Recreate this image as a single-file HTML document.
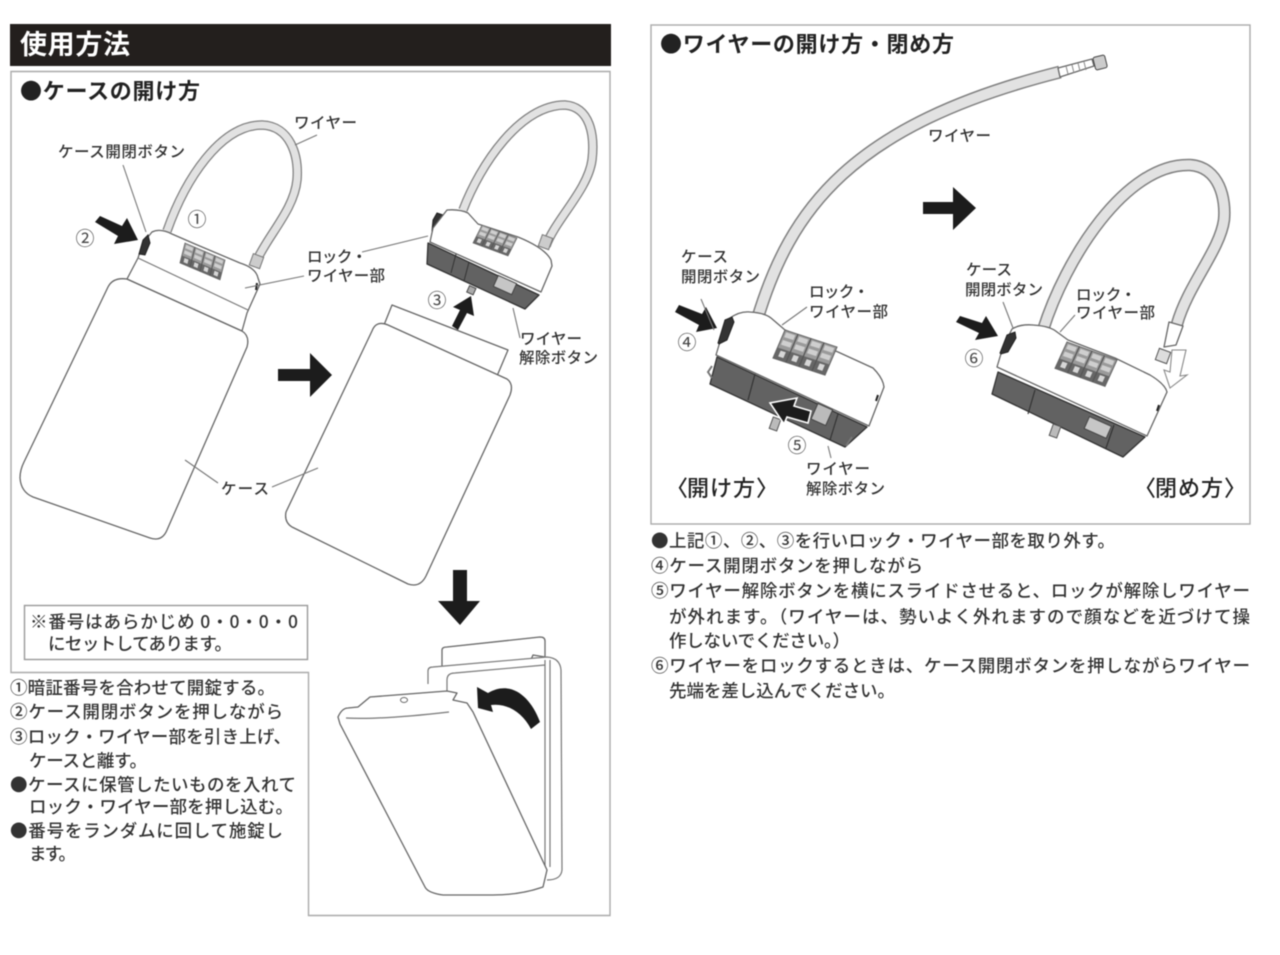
<!DOCTYPE html>
<html lang="ja">
<head>
<meta charset="utf-8">
<title>使用方法</title>
<style>
html,body{margin:0;padding:0;background:#fff;width:1280px;height:955px;overflow:hidden}
svg{display:block;filter:blur(.5px)}
text{font-family:"Noto Sans CJK JP","Liberation Sans",sans-serif;fill:#2a2a2a;font-weight:500}
.l{font-size:15.5px;fill:#333}
.b{font-size:17.5px;fill:#333}
.h{font-size:22px;font-weight:700;fill:#222}
.n{font-size:19px;fill:#444;font-weight:400}
.s{fill:none;stroke:#777;stroke-width:1.2;stroke-linejoin:round}
.o{fill:#fff;stroke:#666;stroke-width:1.300;stroke-linejoin:round}
.k{fill:none;stroke:#777;stroke-width:1.1}
.d{fill:#626262;stroke:#333;stroke-width:1.3;stroke-linejoin:round}
.w1{fill:none;stroke:#808080;stroke-linecap:butt}
.w2{fill:none;stroke:#e2e2e2;stroke-linecap:butt}
.a{fill:#1c1c1c}
</style>
</head>
<body>
<svg width="1280" height="955" viewBox="0 0 1280 955" xmlns="http://www.w3.org/2000/svg">
<defs>
<g id="dial">
<rect x="0" y="0" width="40" height="24" fill="#9a9a9a" stroke="#666" stroke-width=".8"/>
<g fill="#cfcfcf">
<rect x="1.500" y="1.500" width="7" height="4"/><rect x="11.500" y="1.500" width="7" height="4"/><rect x="21.500" y="1.500" width="7" height="4"/><rect x="31.500" y="1.500" width="7" height="4"/>
<rect x="1.500" y="8" width="7" height="4"/><rect x="11.500" y="8" width="7" height="4"/><rect x="21.500" y="8" width="7" height="4"/><rect x="31.500" y="8" width="7" height="4"/>
</g>
<rect x="0" y="15" width="40" height="9" fill="#666"/>
<g fill="#d6d6d6">
<rect x="3" y="16.500" width="4" height="5"/><rect x="13" y="16.500" width="4" height="5"/><rect x="23" y="16.500" width="4" height="5"/><rect x="33" y="16.500" width="4" height="5"/>
</g>
<path d="M10,0V24M20,0V24M30,0V24" stroke="#555" stroke-width=".9"/>
</g>
</defs>

<!-- Frames -->
<rect x="10" y="24" width="601" height="42" fill="#231f1d"/>
<path d="M11,71.500H610V915.500H308.500V672.500H11Z" fill="none" stroke="#aaa" stroke-width="1.400"/>
<rect x="24.500" y="605.500" width="283" height="54" fill="#fff" stroke="#999" stroke-width="1.400"/>
<rect x="651" y="25" width="599" height="499" fill="none" stroke="#aaa" stroke-width="1.400"/>

<text x="20" y="54" style="font-size:27px;font-weight:700;fill:#fff" textLength="110">使用方法</text>
<text x="20" y="99" class="h" textLength="180">●ケースの開け方</text>
<text x="660" y="52" class="h" textLength="294">●ワイヤーの開け方・閉め方</text>

<!-- Case 1 -->
<path class="o" d="M108,287Q113,277 127,279L242,331Q250,336 247,347L167,530Q162,542 150,538L33,497Q21,492 20,478Q20,470 24,462Z"/>

<!-- Lock 1 -->
<path class="w1" stroke-width="9.500" d="M167,231C185,180 220,125 262,125C290,126 299,155 297,180C294,210 268,235 256,262"/>
<path class="w2" stroke-width="7" d="M167,231C185,180 220,125 262,125C290,126 299,155 297,180C294,210 268,235 256,262"/>
<path class="o" d="M127,279L138,258L143,243L152,232Q160,228 172,234L195,244L240,263Q256,268 258,278L260,284L247,313L242,331Z"/>
<path class="s" d="M138,258L248,310"/>
<path d="M139,254L143,240L148,235L150,243L145,255Z" fill="#333" stroke="#222"/>
<use href="#dial" transform="matrix(1,.425,-.21,.83,185,243)"/>
<path d="M257,283l-1,7" stroke="#222" stroke-width="2"/>
<rect x="251" y="255" width="11" height="12" fill="#ccc" stroke="#777" transform="rotate(20 256 261)"/>

<!-- Case 2 -->
<path class="o" d="M392,305L508,350L497,376L384,325Z"/>
<path class="o" d="M372,331Q376,320 388,325L507,379Q514,384 510,395L426,576Q420,588 408,584L292,527Q284,522 286,512Z"/>

<!-- Lock 2 -->
<path class="w1" stroke-width="9.500" d="M463,210C480,165 520,105 565,105C590,107 595,135 592,160C588,190 555,220 546,246"/>
<path class="w2" stroke-width="7" d="M463,210C480,165 520,105 565,105C590,107 595,135 592,160C588,190 555,220 546,246"/>
<rect x="540" y="236" width="11" height="12" fill="#ccc" stroke="#777" transform="rotate(20 545 242)"/>
<path class="d" d="M428,243L539,295L525,309L427,264Z"/>
<path d="M433,220L437,213L443,215L438,232L432,231Z" fill="#333" stroke="#222"/>
<path class="o" d="M430,242L433,228L447,210Q460,209 468,213L478,224L518,237Q545,248 551,260L552,266L541,292Z"/>
<use href="#dial" transform="matrix(.875,.325,-.375,.75,482,225)"/>
<rect x="495" y="279" width="20" height="12" fill="#c6c6c6" stroke="#444" transform="rotate(24 505 285)"/>
<path d="M456,254L451,273M469,262L464,281" stroke="#333" stroke-width="1"/>
<rect x="468" y="287" width="7" height="7" fill="#aaa" stroke="#444" transform="rotate(24 472 290)"/>

<!-- Left panel: final case -->
<path class="o" d="M442,667V650Q442,647 447,647L540,637Q545,637 545,641V657L533,655L530,662L443,670Z"/>
<path d="M428,684V671Q428,667 433,667L547,657Q560,658 561,670L562,870Q561,880 547,880Z" fill="#fff"/>
<path class="s" d="M428,684V671Q428,667 433,667L547,657Q560,658 561,670L562,870Q561,880 547,880"/>
<path class="s" d="M447,692V680Q447,673 455,673L545,665M545,660V867M550,660V867"/>
<path class="o" d="M338,717Q342,708 348,708L358,707L370,697L447,691L457,693L453,700L467,703L473,712L547,870L543,887Q520,895 493,895L443,895Q428,893 425,887L340,724Z"/>
<path class="s" d="M346,718Q380,720 449,712"/>
<ellipse cx="404" cy="700" rx="3.500" ry="2.500" fill="none" stroke="#666"/>
<path class="a" d="M540,722L531,729C522,712 507,703 491,705L493,712L478,708L477,687L488,693C510,680 530,695 540,722Z"/>

<!-- Arrows -->
<polygon class="a" points="95,222 100,216 122,226 127,218 138,240 114,244 118,236"/>
<polygon class="a" points="278,369 310,369 310,353 332,375 310,397 310,381 278,381"/>
<polygon class="a" points="452,326 458,330 467,313 474,316 471,296 453,307 460,310"/>
<polygon class="a" points="453,570 467,570 467,601 480,601 460,625 438,601 453,601"/>
<polygon class="a" points="923,202 953,202 953,187 976,208 953,230 953,214 923,214"/>
<polygon class="a" points="675,312 679,305 702,314 706,307 717,328 696,332 699,325"/>
<polygon class="a" points="956,322 960,316 982,323 986,316 998,336 975,340 979,333"/>

<!-- Lock 4 (wire open) -->
<path class="w1" stroke-width="13" d="M757,320C790,210 850,125 1060,72"/>
<path class="w2" stroke-width="10" d="M757,320C790,210 850,125 1060,72"/>
<path class="o" d="M1058,68L1092,59L1094,66L1060,77Z"/>
<path d="M1066,66l2,8M1072,65l2,8M1078,63l2,8M1084,62l2,8" stroke="#888"/>
<rect x="1094" y="56" width="12" height="13" rx="2" fill="#ccc" stroke="#444" transform="rotate(-14 1100 62)"/>
<path class="d" d="M717,357L867,427L845,447L710,384Z"/>
<path d="M755,374L748,400M838,414L830,440" stroke="#333" stroke-width="1.200"/>
<path d="M712,366L708,372L712,378M846,446L852,437" fill="none" stroke="#777" stroke-width="2"/>
<rect x="771" y="418" width="8" height="12" fill="#bbb" stroke="#555" transform="rotate(20 775 424)"/>
<path class="o" d="M716,355L722,335L730,318Q740,311 750,312Q765,313 771,318L785,330L838,352L873,368Q883,378 884,387L869,426Z"/>
<path d="M718,343L725,320L732,317L734,322L727,340L719,344Z" fill="#333" stroke="#222"/>
<use href="#dial" transform="matrix(1.300,.425,-.5,1.170,785,330)"/>
<rect x="814" y="406" width="16" height="17" fill="#bbb" stroke="#444" transform="rotate(24 822 414)"/>
<path d="M878,395l-2,6" stroke="#222" stroke-width="2"/>
<polygon points="811,411 808,423 787,417 784,424 770,403 797,398 794,406" fill="#1c1c1c" stroke="#fff" stroke-width="1.600"/>

<!-- Lock 6 (wire close) -->
<path class="w1" stroke-width="12.500" d="M1043,330C1065,260 1125,163 1190,165C1220,167 1226,200 1224,220C1220,250 1188,285 1177,324"/>
<path class="w2" stroke-width="9.500" d="M1043,330C1065,260 1125,163 1190,165C1220,167 1226,200 1224,220C1220,250 1188,285 1177,324"/>
<path class="o" d="M1169,322L1183,326L1176,345L1164,347Z"/>
<rect x="1157" y="350" width="12" height="12" fill="#ddd" stroke="#555" transform="rotate(20 1163 356)"/>
<polygon points="1172,350 1186,350 1180,376 1187,375 1170,388 1164,370 1170,372" fill="#fff" stroke="#888" stroke-width="1.100"/>
<path class="d" d="M998,372L1145,437L1123,457L992,394Z"/>
<path d="M1035,390L1028,414M1114,425L1106,448" stroke="#333" stroke-width="1.200"/>
<rect x="1051" y="425" width="8" height="12" fill="#bbb" stroke="#555" transform="rotate(20 1055 431)"/>
<rect x="1086" y="421" width="24" height="13" fill="#c6c6c6" stroke="#444" transform="rotate(24 1098 427)"/>
<path class="o" d="M997,367L1003,347L1012,329Q1020,324 1033,325Q1050,326 1057,332L1068,340L1115,358L1150,375Q1165,384 1167,392L1147,436Z"/>
<path d="M1000,353L1007,335L1015,332L1016,338L1008,352L1001,354Z" fill="#333" stroke="#222"/>
<use href="#dial" transform="matrix(1.250,.45,-.5,1.100,1067,342)"/>
<path d="M1159,405l-2,6" stroke="#222" stroke-width="2"/>

<!-- Leaders -->
<g class="k">
<path d="M123,165L146,232"/>
<path d="M295,145L317,135"/>
<path d="M245,288L304,276"/>
<path d="M428,236L362,252"/>
<path d="M513,308L520,338"/>
<path d="M185,460L218,483"/>
<path d="M318,468L272,487"/>
<path d="M701,299L714,330"/>
<path d="M807,307L782,325"/>
<path d="M828,446L831,458"/>
<path d="M1003,302L1013,328"/>
<path d="M1075,315L1060,332"/>
</g>

<!-- Left labels -->
<text x="294" y="128" class="l" textLength="63">ワイヤー</text>
<text x="58" y="157" class="l" textLength="127">ケース開閉ボタン</text>
<text x="187.500" y="226" class="n">①</text>
<text x="75.500" y="245" class="n">②</text>
<text x="307" y="262" class="l" textLength="60">ロック・</text>
<text x="307" y="281" class="l" textLength="78">ワイヤー部</text>
<text x="427.500" y="307" class="n">③</text>
<text x="520" y="344" class="l" textLength="62">ワイヤー</text>
<text x="519" y="363" class="l" textLength="79">解除ボタン</text>
<text x="221" y="494" class="l" textLength="48">ケース</text>

<text x="30" y="628" class="b" textLength="268">※番号はあらかじめ 0・0・0・0</text>
<text x="48" y="650" class="b" textLength="184">にセットしてあります。</text>

<text x="10" y="694" class="b" textLength="265">①暗証番号を合わせて開錠する。</text>
<text x="10" y="718" class="b" textLength="273">②ケース開閉ボタンを押しながら</text>
<text x="10" y="743" class="b" textLength="281">③ロック・ワイヤー部を引き上げ、</text>
<text x="29" y="767" class="b" textLength="118">ケースと離す。</text>
<text x="10" y="791" class="b" textLength="286">●ケースに保管したいものを入れて</text>
<text x="29" y="813" class="b" textLength="264">ロック・ワイヤー部を押し込む。</text>
<text x="10" y="837" class="b" textLength="273">●番号をランダムに回して施錠し</text>
<text x="29" y="860" class="b" textLength="47">ます。</text>

<!-- Right labels -->
<text x="928" y="141" class="l" textLength="63">ワイヤー</text>
<text x="681" y="262" class="l" textLength="47">ケース</text>
<text x="681" y="282" class="l" textLength="79">開閉ボタン</text>
<text x="809" y="297" class="l" textLength="60">ロック・</text>
<text x="809" y="317" class="l" textLength="79">ワイヤー部</text>
<text x="677.500" y="349" class="n">④</text>
<text x="787.500" y="452" class="n">⑤</text>
<text x="806" y="474" class="l" textLength="64">ワイヤー</text>
<text x="806" y="494" class="l" textLength="79">解除ボタン</text>
<text x="666 687 710 733 756" y="496" style="font-size:22px;fill:#222">〈開け方〉</text>
<text x="1134 1155 1178 1201 1224" y="496" style="font-size:22px;fill:#222">〈閉め方〉</text>
<text x="966" y="275" class="l" textLength="46">ケース</text>
<text x="965" y="295" class="l" textLength="78">開閉ボタン</text>
<text x="1076" y="300" class="l" textLength="60">ロック・</text>
<text x="1076" y="318" class="l" textLength="79">ワイヤー部</text>
<text x="964.500" y="365" class="n">⑥</text>

<text x="651" y="547" class="b" textLength="464">●上記①、②、③を行いロック・ワイヤー部を取り外す。</text>
<text x="651" y="572" class="b" textLength="272">④ケース開閉ボタンを押しながら</text>
<text x="651" y="597" class="b" textLength="599">⑤ワイヤー解除ボタンを横にスライドさせると、ロックが解除しワイヤー</text>
<text x="669" y="623" class="b" textLength="581">が外れます。（ワイヤーは、勢いよく外れますので顔などを近づけて操</text>
<text x="669" y="647" class="b" textLength="181">作しないでください。）</text>
<text x="651" y="672" class="b" textLength="599">⑥ワイヤーをロックするときは、ケース開閉ボタンを押しながらワイヤー</text>
<text x="669" y="697" class="b" textLength="226">先端を差し込んでください。</text>
</svg>
</body>
</html>
